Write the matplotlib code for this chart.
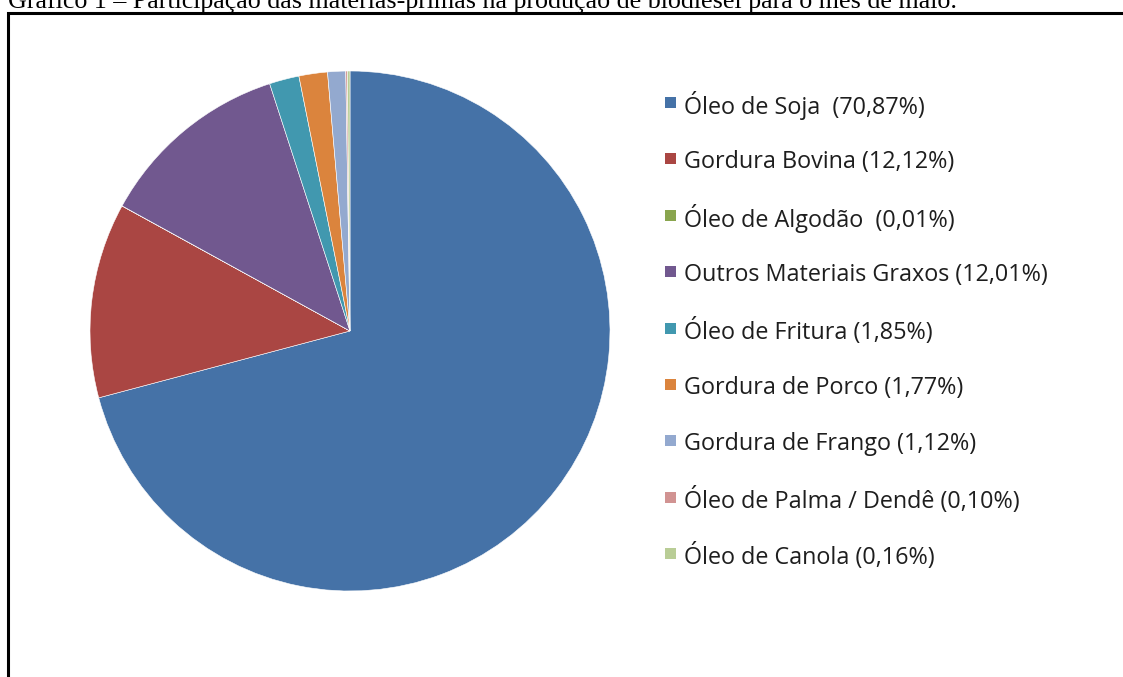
import matplotlib
matplotlib.use('Agg')
import matplotlib.pyplot as plt
from matplotlib.patches import Rectangle

# Data
labels = ['Óleo de Soja  (70,87%)', 'Gordura Bovina (12,12%)', 'Óleo de Algodão  (0,01%)',
          'Outros Materiais Graxos (12,01%)', 'Óleo de Fritura (1,85%)', 'Gordura de Porco (1,77%)',
          'Gordura de Frango (1,12%)', 'Óleo de Palma / Dendê (0,10%)', 'Óleo de Canola (0,16%)']
shares = [70.87, 12.12, 0.01, 12.01, 1.85, 1.77, 1.12, 0.10, 0.16]
colors = ['#4572A7', '#AA4643', '#89A54E', '#71588F', '#4198AF', '#DB843D',
          '#93A9CF', '#D19392', '#B9CD96']

W, H = 1123, 677
fig = plt.figure(figsize=(W / 100, H / 100), dpi=100)
fig.patch.set_facecolor('white')

# Cropped caption at the very top
fig.text(8 / W, 1 - 8 / H, 'Gráfico 1 – Participação das matérias-primas na produção de biodiesel para o mês de maio.',
         family='Liberation Serif', fontsize=18.7, color='black', ha='left', va='baseline')

# Document frame (runs off right and bottom)
fig.add_artist(Rectangle((7.5 / W, -0.1), 1.2, 1 - 12.5 / H + 0.1, transform=fig.transFigure,
                         fill=False, edgecolor='black', linewidth=2.2, clip_on=False))

# Pie
cx, cy, r = 350, 331, 260
ax = fig.add_axes([(cx - r) / W, (H - cy - r) / H, 2 * r / W, 2 * r / H])
ax.pie(shares, colors=colors, startangle=90, counterclock=False,
       wedgeprops=dict(edgecolor='white', linewidth=0.4))
ax.set_xlim(-1, 1)
ax.set_ylim(-1, 1)
ax.set_aspect('equal')
ax.axis('off')

# Legend (one row per slice)
row0, pitch = 102.5, 56.4
for i, (lab, c) in enumerate(zip(labels, colors)):
    y = row0 + i * pitch
    fig.add_artist(Rectangle((665 / W, 1 - (y + 5.5) / H), 11 / W, 11 / H,
                             transform=fig.transFigure, facecolor=c, edgecolor='none'))
    fig.text(684 / W, 1 - y / H, lab, family='Open Sans', fontsize=16.8,
             color='#1e1e1e', ha='left', va='center_baseline')

fig.savefig('out.png', dpi=100, facecolor='white')
